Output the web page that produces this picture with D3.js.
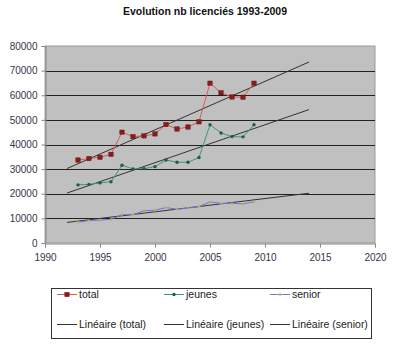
<!DOCTYPE html>
<html><head><meta charset="utf-8">
<script src="https://cdn.jsdelivr.net/npm/d3@7"></script>
<style>body{margin:0;background:#fff}svg{display:block}text{font-family:"Liberation Sans",Arial,sans-serif}</style>
</head><body>
<svg id="c" width="400" height="346"></svg>
<script>
const years = [1993,1994,1995,1996,1997,1998,1999,2000,2001,2002,2003,2004,2005,2006,2007,2008,2009];
const total = [33700,34300,34800,36000,45000,43200,43500,44300,48100,46300,47100,49200,64900,61000,59300,59200,64900];
const jeunes = [23600,23800,24400,24900,31600,30100,30200,31000,33700,32800,32800,34700,48000,44700,43200,43100,48000];
const senior = [8500,9100,9300,9600,11500,11500,13100,13300,14400,13700,14200,14800,16700,16100,16100,15900,16700];
const xTicks = [1990,1995,2000,2005,2010,2015,2020];
const yTicks = [0,10000,20000,30000,40000,50000,60000,70000,80000];
const title = "Evolution nb licenciés 1993-2009";
const trendRange = [1992, 2014];

const svg = d3.select("#c");
const m = {l:45, r:375, t:46, b:243};
const x = d3.scaleLinear().domain([1990,2020]).range([m.l,m.r]);
const y = d3.scaleLinear().domain([0,80000]).range([m.b,m.t]);

svg.append("text").attr("x",205).attr("y",15).attr("text-anchor","middle")
  .attr("font-size",10.5).attr("font-weight","bold").attr("fill","#111").text(title);

svg.append("rect").attr("x",m.l).attr("y",m.t).attr("width",m.r-m.l).attr("height",m.b-m.t)
  .attr("fill","#c0c0c0").attr("stroke","#999").attr("stroke-width",1);

svg.append("g").selectAll("line").data(yTicks.filter(d=>d>0&&d<80000)).join("line")
  .attr("x1",m.l).attr("x2",m.r).attr("y1",d=>Math.round(y(d))+0.5).attr("y2",d=>Math.round(y(d))+0.5)
  .attr("stroke","#222").attr("stroke-width",1);

const ya = svg.append("g").attr("transform",`translate(${m.l+0.5},0)`)
  .call(d3.axisLeft(y).tickValues(yTicks).tickSize(4).tickPadding(4).tickFormat(d3.format("d")));
const xa = svg.append("g").attr("transform",`translate(0,${m.b+0.5})`)
  .call(d3.axisBottom(x).tickValues(xTicks).tickSize(4).tickPadding(4).tickFormat(d3.format("d")));
[ya,xa].forEach(a=>{
  a.select(".domain").attr("stroke","#888");
  a.selectAll(".tick line").attr("stroke","#888");
  a.selectAll("text").attr("font-size",10).attr("fill","#3a3348").attr("font-family","Liberation Sans, Arial, sans-serif");
});
xa.selectAll("text").attr("dy","0.9em");

function regress(vals){
  const n=years.length, mx=d3.mean(years), my=d3.mean(vals);
  let sxy=0,sxx=0; years.forEach((yr,i)=>{sxy+=(yr-mx)*(vals[i]-my);sxx+=(yr-mx)**2;});
  const b=sxy/sxx, a=my-b*mx; return t=>a+b*t;
}
const series = [
  {name:"total", vals:total, line:"#d65a5a", mk:"#8b1a1a", shape:"square"},
  {name:"jeunes", vals:jeunes, line:"#3a9a6a", mk:"#1f5a4a", shape:"circle"},
  {name:"senior", vals:senior, line:"#7a6ee0", mk:"#b8b060", shape:"cross"}
];
const ln = d3.line().x(d=>x(d[0])).y(d=>y(d[1]));
series.forEach(s=>{
  const f=regress(s.vals);
  svg.append("path").datum(trendRange.map(t=>[t,f(t)])).attr("d",ln)
    .attr("stroke","#333").attr("stroke-width",1).attr("fill","none");
});
function marker(g,shape,cx,cy,col){
  if(shape==="square") g.append("rect").attr("x",cx-2.2).attr("y",cy-2.2).attr("width",4.4).attr("height",4.4).attr("fill",col).attr("stroke","#5a0a0a").attr("stroke-width",0.4);
  else if(shape==="circle") g.append("circle").attr("cx",cx).attr("cy",cy).attr("r",1.7).attr("fill",col);
  else g.append("path").attr("d",`M${cx-1.5},${cy}H${cx+1.5}M${cx},${cy-1.5}V${cy+1.5}`).attr("stroke",col).attr("stroke-width",1);
}
series.forEach(s=>{
  const pts=years.map((yr,i)=>[yr,s.vals[i]]);
  svg.append("path").datum(pts).attr("d",ln).attr("stroke",s.line).attr("stroke-width",1).attr("fill","none");
  const g=svg.append("g");
  pts.forEach(p=>marker(g,s.shape,x(p[0]),y(p[1]),s.mk));
});

// legend
const lg = svg.append("g");
lg.append("rect").attr("x",51.5).attr("y",288.5).attr("width",320).attr("height",50)
  .attr("fill","#fff").attr("stroke","#333").attr("stroke-width",1);
const cols=[57,164,270];
series.forEach((s,i)=>{
  const cx=cols[i], cy=294.5;
  lg.append("line").attr("x1",cx).attr("x2",cx+20).attr("y1",cy).attr("y2",cy).attr("stroke",s.line);
  marker(lg,s.shape,cx+10,cy,s.mk);
  lg.append("text").attr("x",cx+22).attr("y",cy+3.5).attr("font-size",10.5).attr("fill","#222").text(s.name);
  const cy2=324.5;
  lg.append("line").attr("x1",cx).attr("x2",cx+20).attr("y1",cy2).attr("y2",cy2).attr("stroke","#333");
  lg.append("text").attr("x",cx+22).attr("y",cy2+3.5).attr("font-size",10.5).attr("fill","#222").text(`Linéaire (${s.name})`);
});
</script>
</body></html>
